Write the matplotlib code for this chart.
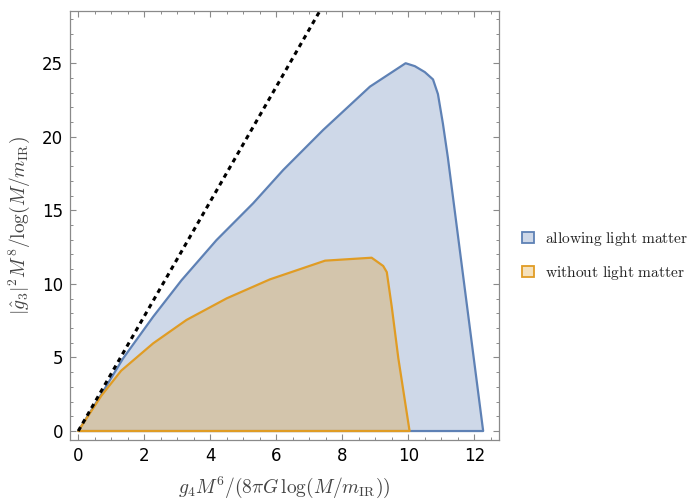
import matplotlib
matplotlib.use("Agg")
import matplotlib.pyplot as plt
from matplotlib.patches import Patch
from matplotlib.ticker import MultipleLocator

plt.rcParams['mathtext.fontset'] = 'cm'
plt.rcParams['font.family'] = ['DejaVu Sans']

# Region boundaries
blue_x = [0, 0.7, 1.36, 2.27, 3.13, 4.19, 5.30, 6.21, 7.42, 8.84, 9.92, 10.2, 10.5, 10.75, 10.9, 11.05, 11.2, 12.27, 0]
blue_y = [0, 2.5, 4.94, 7.77, 10.25, 12.98, 15.48, 17.74, 20.46, 23.41, 25.0, 24.8, 24.4, 23.9, 22.9, 20.9, 18.6, 0, 0]

orange_x = [0, 0.7, 1.3, 2.27, 3.28, 4.50, 5.81, 7.48, 8.89, 9.24, 9.35, 9.50, 9.70, 10.04, 0]
orange_y = [0, 2.4, 4.1, 5.96, 7.55, 9.02, 10.31, 11.58, 11.78, 11.22, 10.8, 8.45, 4.94, 0, 0]

bound_x = [0, 8]
bound_y = [0, 31.2]

labels = ['allowing light matter', 'without light matter']

blue = (0.368, 0.506, 0.710)
orange = (0.880, 0.611, 0.142)

fig = plt.figure(figsize=(6.87, 4.99), dpi=100)
ax = fig.add_axes([70/687, 59/499, 429/687, 429.3/499])

ax.fill(blue_x, blue_y, facecolor=blue + (0.3,), edgecolor=blue, linewidth=1.6, joinstyle='round')
ax.fill(orange_x, orange_y, facecolor=orange + (0.3,), edgecolor=orange, linewidth=1.6, joinstyle='round')
ax.plot(bound_x, bound_y, color='black', linewidth=2.2, linestyle=(0, (1.5, 1.4)))

ax.set_xlim(-0.25, 12.75)
ax.set_ylim(-0.61, 28.57)

ax.xaxis.set_major_locator(MultipleLocator(2))
ax.xaxis.set_minor_locator(MultipleLocator(0.5))
ax.yaxis.set_major_locator(MultipleLocator(5))
ax.yaxis.set_minor_locator(MultipleLocator(1))

frame_c = '#8a8a8a'
for s in ax.spines.values():
    s.set_color(frame_c)
    s.set_linewidth(0.9)
ax.tick_params(which='both', direction='in', top=True, right=True, color=frame_c, labelsize=12, pad=5)
ax.tick_params(which='major', length=4.5, width=0.8)
ax.tick_params(which='minor', length=2.5, width=0.7)

ax.set_xlabel(r'$g_4 M^6/(8\pi G\,\log(M/m_{\mathrm{IR}}))$', fontsize=14, color='#444444', labelpad=7)
ax.set_ylabel(r'$|\hat{g}_3|^2 M^8/\log(M/m_{\mathrm{IR}})$', fontsize=14, color='#444444', labelpad=7)

handles = [Patch(facecolor=blue + (0.3,), edgecolor=blue, linewidth=1.3),
           Patch(facecolor=orange + (0.3,), edgecolor=orange, linewidth=1.3)]
leg_labels = [r'$\mathrm{' + l.replace(' ', r'\ ') + '}$' for l in labels]
fig.legend(handles, leg_labels, loc='center left', bbox_to_anchor=(508/687, 1 - 256/499),
           frameon=False, fontsize=11.2, handlelength=0.75, handleheight=0.75,
           handletextpad=0.7, labelspacing=1.05, labelcolor='#222222')

fig.savefig('out.png', dpi=100)
